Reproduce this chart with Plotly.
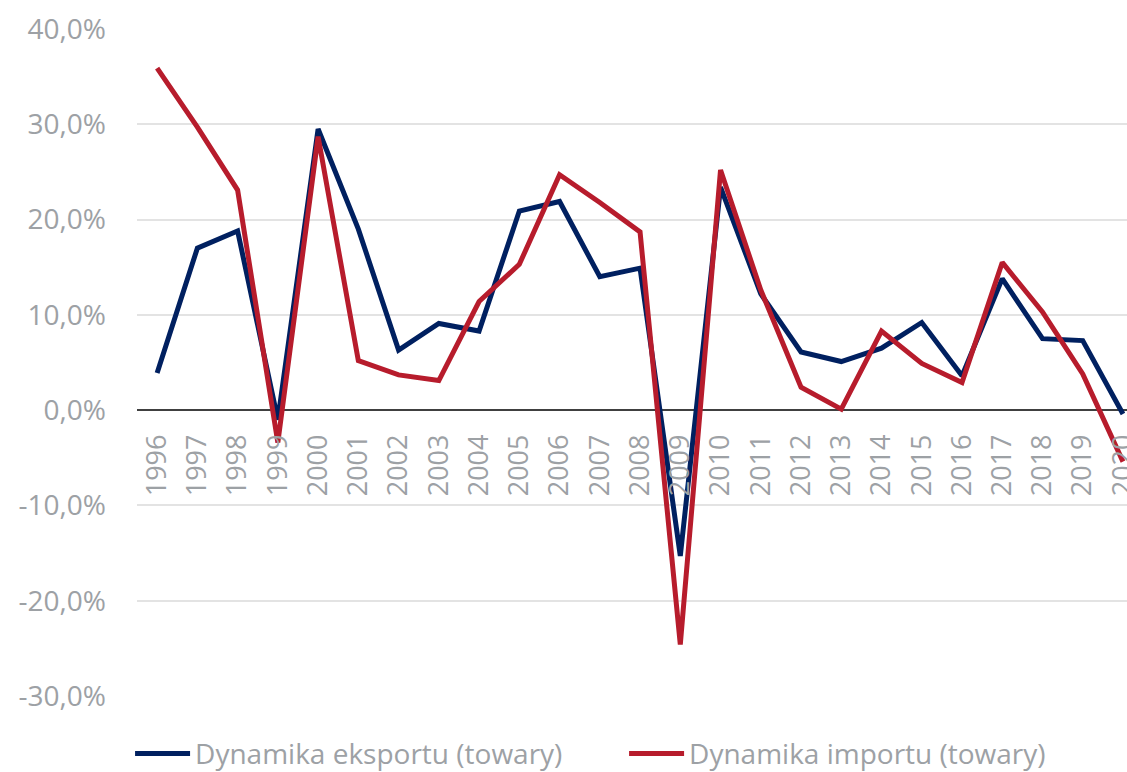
import plotly.graph_objects as go

years = [str(y) for y in range(1996, 2021)]
eksport = [3.9, 17.0, 18.8, -1.0, 29.5, 19.0, 6.3, 9.1, 8.3, 20.9, 21.9, 14.0, 14.9,
           -15.3, 23.4, 12.2, 6.1, 5.1, 6.5, 9.2, 3.6, 13.8, 7.5, 7.3, -0.4]
import_ = [35.9, 29.7, 23.1, -3.4, 28.7, 5.2, 3.7, 3.1, 11.4, 15.3, 24.7, 21.8, 18.7,
           -24.6, 25.2, 12.6, 2.4, 0.1, 8.3, 4.9, 2.9, 15.5, 10.3, 3.8, -5.4]
series_names = ["Dynamika eksportu (towary)", "Dynamika importu (towary)"]
y_ticks = [-30, -20, -10, 0, 10, 20, 30, 40]
y_tick_labels = ["-30,0%", "-20,0%", "-10,0%", "0,0%", "10,0%", "20,0%", "30,0%", "40,0%"]

BLUE = "#002060"
RED = "#B71C2C"
GREY = "#9da1a5"
FONT = "Open Sans"

fig = go.Figure()
fig.add_trace(go.Scatter(x=years, y=eksport, mode="lines", name=series_names[0],
                         line=dict(color=BLUE, width=5), legend="legend"))
fig.add_trace(go.Scatter(x=years, y=import_, mode="lines", name=series_names[1],
                         line=dict(color=RED, width=5), legend="legend2"))

leg_common = dict(orientation="h", xanchor="left", y=-0.0865, yanchor="middle",
                  font=dict(family=FONT, size=28, color=GREY),
                  itemwidth=55, bgcolor="rgba(0,0,0,0)")
fig.update_layout(
    width=1127, height=772,
    margin=dict(l=137, r=0, t=29, b=76, autoexpand=False),
    paper_bgcolor="white", plot_bgcolor="white",
    font=dict(family=FONT, color=GREY),
    showlegend=True,
    legend=dict(x=-0.007, **leg_common),
    legend2=dict(x=0.492, **leg_common),
    hovermode=False,
)
fig.update_xaxes(
    type="category", range=[-0.5, 24.1],
    anchor="free", position=30/70,
    showgrid=False, showline=False, zeroline=False,
    tickangle=-90, ticks="", ticklabelstandoff=18,
    tickfont=dict(family=FONT, size=27, color=GREY),
)
fig.update_yaxes(
    range=[-30, 40], tickvals=y_ticks, ticktext=y_tick_labels,
    showgrid=True, gridcolor="#e3e3e3", gridwidth=1.5,
    zeroline=True, zerolinecolor="#404040", zerolinewidth=2,
    showline=False, ticks="", ticklabelstandoff=30,
    tickfont=dict(family=FONT, size=28, color=GREY),
)

fig.write_html("out.html", config={"displayModeBar": False},
               post_script="document.body.style.margin='0';")
